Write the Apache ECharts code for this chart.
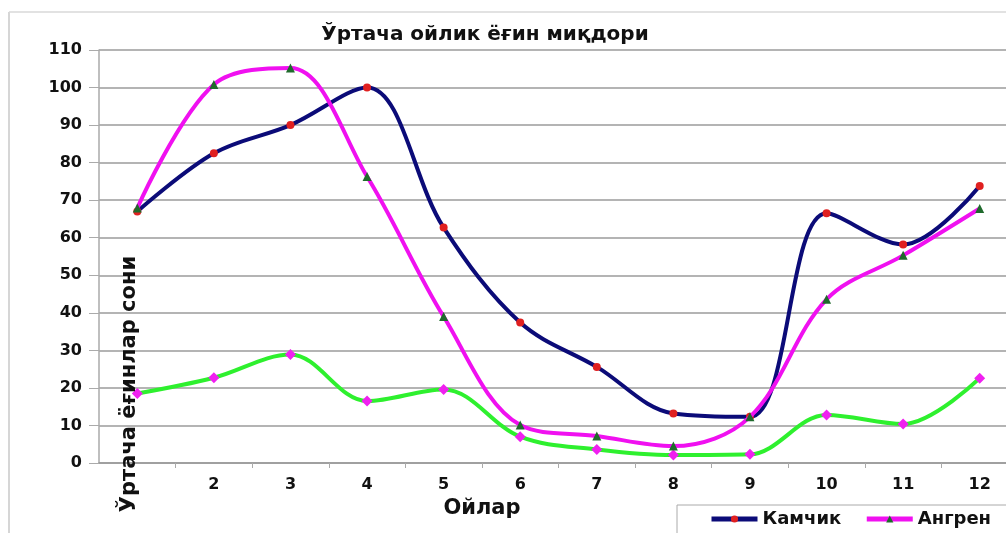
<!DOCTYPE html>
<html>
<head>
<meta charset="utf-8">
<script src="https://cdn.jsdelivr.net/npm/echarts@6/dist/echarts.min.js"></script>
<style>
html,body{margin:0;padding:0;background:#fff;overflow:hidden;}
#chart{width:1020px;height:533px;}
</style>
</head>
<body>
<div id="chart"></div>
<script>
const months = ['1','2','3','4','5','6','7','8','9','10','11','12'];
const yTicks = [0,10,20,30,40,50,60,70,80,90,100,110];
const kamchik = [67, 82.5, 90, 100, 62.7, 37.4, 25.6, 13.2, 12.3, 66.5, 58.2, 73.8];
const angren = [67.9, 100.8, 105.2, 76.3, 39, 10.1, 7.2, 4.5, 12.3, 43.6, 55.3, 67.8];
const third = [18.5, 22.7, 28.9, 16.5, 19.6, 7, 3.6, 2.1, 2.3, 12.8, 10.4, 22.6];

const FONT = '"DejaVu Sans", Verdana, sans-serif';
const chart = echarts.init(document.getElementById('chart'));
chart.setOption({
  animation: false,
  backgroundColor: '#fff',
  title: {
    text: 'Ўртача ойлик ёғин миқдори',
    left: 480, top: 20, textAlign: 'center',
    textStyle: {fontFamily: FONT, fontWeight: 'bold', fontSize: 20, color: '#111'}
  },
  grid: {left: 99, top: 50, right: 2, height: 413, containLabel: false},
  legend: {
    data: ['Камчик', 'Ангрен'],
    orient: 'horizontal',
    left: 677, top: 505, width: 400,
    padding: [5, 30, 12, 32],
    itemGap: 23,
    itemWidth: 46, itemHeight: 9,
    lineStyle: {width: 5},
    borderColor: '#aaa', borderWidth: 1,
    textStyle: {fontFamily: FONT, fontWeight: 'bold', fontSize: 18, color: '#111'}
  },
  xAxis: {
    type: 'category',
    data: months,
    boundaryGap: true,
    axisLine: {show: true, lineStyle: {color: '#999', width: 1.5}},
    axisTick: {show: true, length: 5, lineStyle: {color: '#aaa'}},
    axisLabel: {
      interval: function (i) { return i > 0; },
      margin: 14,
      fontFamily: FONT, fontWeight: 'bold', fontSize: 16, color: '#111'
    },
    splitLine: {show: false}
  },
  yAxis: {
    type: 'value',
    min: 0, max: 110, interval: 10,
    axisLine: {show: true, lineStyle: {color: '#aaa', width: 1.5}},
    axisTick: {show: true, length: 10, lineStyle: {color: '#aaa'}},
    axisLabel: {
      margin: 17,
      formatter: function (v) { return yTicks.indexOf(v) >= 0 ? String(v) : ''; },
      fontFamily: FONT, fontWeight: 'bold', fontSize: 16, color: '#111'
    },
    splitLine: {show: true, lineStyle: {color: '#b4b4b4', width: 2}}
  },
  series: [
    {
      name: 'Камчик', type: 'line', data: kamchik, smooth: 0.35,
      lineStyle: {color: '#0b0b78', width: 4},
      itemStyle: {color: '#e02020'},
      symbol: 'circle', symbolSize: 8, z: 3
    },
    {
      name: 'Ангрен', type: 'line', data: angren, smooth: 0.35,
      lineStyle: {color: '#f010f0', width: 4},
      itemStyle: {color: '#1f6a2c'},
      symbol: 'triangle', symbolSize: 9, z: 4
    },
    {
      name: 'third', type: 'line', data: third, smooth: 0.35,
      lineStyle: {color: '#2ef02e', width: 4},
      itemStyle: {color: '#f020f0'},
      symbol: 'diamond', symbolSize: 11, z: 2
    }
  ],
  graphic: [
    {type: 'line', shape: {x1: 9, y1: 12, x2: 9, y2: 533}, style: {stroke: '#c8c8c8', lineWidth: 1.5}, silent: true},
    {type: 'line', shape: {x1: 9, y1: 12, x2: 1020, y2: 12}, style: {stroke: '#d8d8d8', lineWidth: 1.5}, silent: true},
    {
      type: 'text', x: 130, y: 384, rotation: Math.PI / 2, z: 100,
      style: {text: 'Ўртача ёғинлар сони', textAlign: 'center', textVerticalAlign: 'middle',
        font: 'bold 21px ' + FONT, fill: '#111'}
    },
    {
      type: 'text', x: 482, y: 509, z: 100,
      style: {text: 'Ойлар', textAlign: 'center', textVerticalAlign: 'middle',
        font: 'bold 21px ' + FONT, fill: '#111'}
    }
  ]
});
</script>
</body>
</html>
